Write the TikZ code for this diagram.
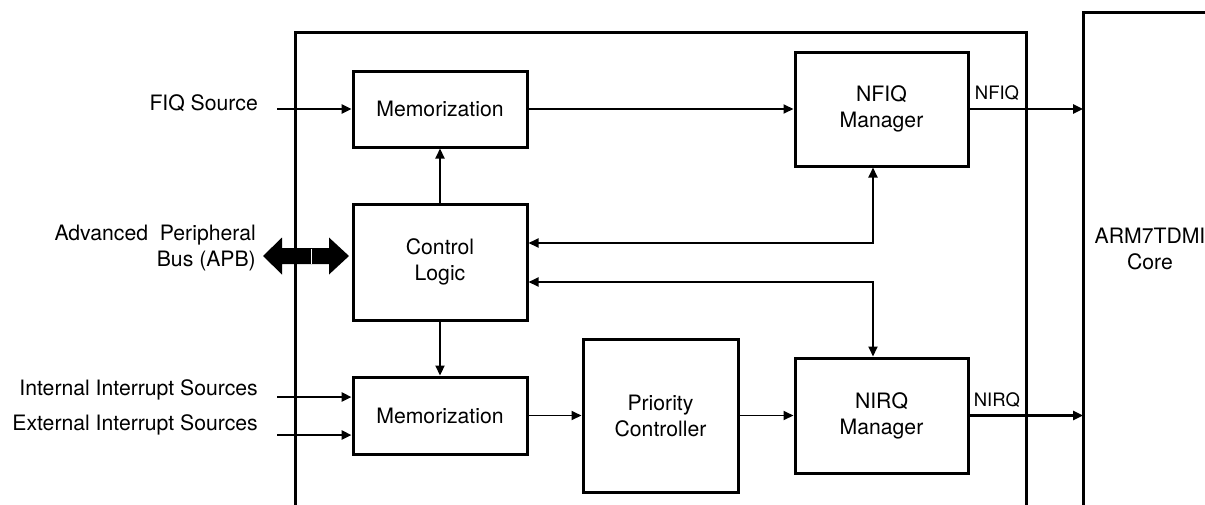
\documentclass[tikz,border=0pt]{standalone}
\usepackage{fontspec}
\setmainfont{TeX Gyre Heros}
\usetikzlibrary{arrows.meta}
\begin{document}
\begin{tikzpicture}[x=1pt,y=-1pt,
  txt/.style={inner sep=0pt,font=\fontsize{21.2}{26}\selectfont},
  blk/.style={draw,line width=3pt,align=center,inner sep=0pt,font=\fontsize{21.2}{26}\selectfont},
  lbl/.style={inner sep=0pt,font=\fontsize{18.5}{22}\selectfont},
  arr/.style={line width=2.4pt,-{Triangle[length=10pt,width=9pt]}},
  arrthin/.style={line width=1.8pt,-{Triangle[length=10pt,width=9pt]}},
  dbl/.style={line width=1.8pt,{Triangle[length=10pt,width=9pt]}-{Triangle[length=10pt,width=9pt]}},
  frame/.style={draw,line width=3pt}
]
\useasboundingbox (0,0) rectangle (1205,504);
\clip (0,0) rectangle (1205,504);

% enclosing boxes
\draw[frame] (295,520) -- (295,32) -- (1026,32) -- (1026,520);
\draw[frame] (1083,520) -- (1083,12) -- (1220,12);
\coordinate (armL) at (1083,0);
\node[txt,align=center] (armtxt) at (1150,249) {ARM7TDMI\\Core};

% blocks
\node[blk,minimum width=174,minimum height=76] (mem1) at (440,109) {Memorization};
\node[blk,minimum width=173,minimum height=114] (nfiq) at (881.5,109) {NFIQ\\Manager};
\node[blk,minimum width=174,minimum height=116] (ctrl) at (440,262) {Control\\Logic};
\node[blk,minimum width=174,minimum height=77] (mem2) at (440,415.5) {Memorization};
\node[blk,minimum width=155,minimum height=153] (prio) at (660.5,415.5) {Priority\\Controller};
\node[blk,minimum width=173,minimum height=115] (nirq) at (881.5,415.5) {NIRQ\\Manager};

% input labels
\node[txt,anchor=east] (fiqtxt) at (258,103) {FIQ Source};
\node[txt,anchor=east,align=right] (apbtxt) at (256,248) {Advanced\ \ Peripheral\\Bus (APB)};
\node[txt,anchor=east] (inttxt) at (258,390) {Internal Interrupt Sources};
\node[txt,anchor=east] (exttxt) at (258,425) {External Interrupt Sources};

\coordinate (fiqin) at (277,109);
\coordinate (intin) at (277,397);
\coordinate (extin) at (277,435);

% inputs
\draw[arr] (fiqin) -- (mem1.west |- fiqin);
\draw[arr] (intin) -- (mem2.west |- intin);
\draw[arr] (extin) -- (mem2.west |- extin);

% APB bus arrow
\fill (263,256) -- (282,237.5) -- (282,248) -- (329,248) -- (329,237.5) -- (349,256)
      -- (329,274.5) -- (329,264) -- (282,264) -- (282,274.5) -- cycle;
\draw[white,line width=0.6pt] (311,248.5) -- (311,263.5);

% internal connections
\draw[arrthin] (mem1.east) -- (nfiq.west |- mem1.east);
\draw[arr,line width=2.2pt] (ctrl.north) -- (mem1.south);
\draw[arr,line width=2.2pt] (ctrl.south) -- (mem2.north);
\draw[arrthin] (mem2.east) -- (prio.west |- mem2.east);
\draw[arrthin] (prio.east) -- (nirq.west |- prio.east);

\coordinate (jn) at (873,243);
\coordinate (jr) at (873,282);
\draw[dbl] (ctrl.east |- jn) -- (jn) -- (jn |- nfiq.south);
\draw[dbl] (ctrl.east |- jr) -- (jr) -- (jr |- nirq.north);

% outputs
\draw[arr] (nfiq.east) -- (armL |- nfiq.east);
\draw[arr] (nirq.east) -- (armL |- nirq.east);
\node[lbl] (nfiqlbl) at (997,93) {NFIQ};
\node[lbl] (nirqlbl) at (997,400) {NIRQ};
\end{tikzpicture}
\end{document}
